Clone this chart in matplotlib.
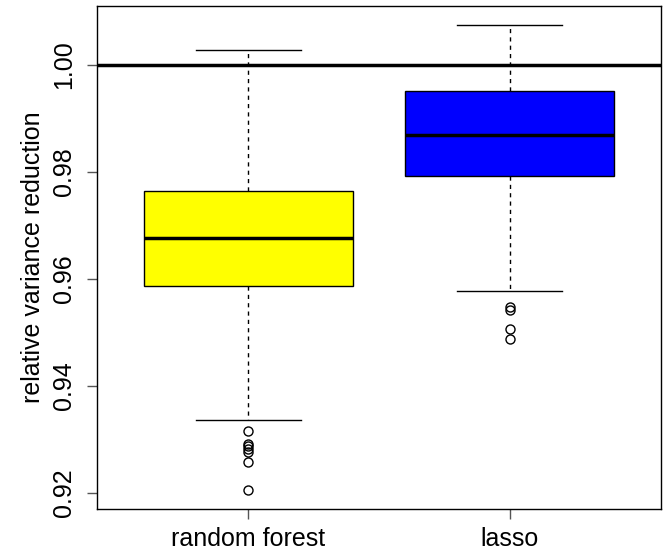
import matplotlib
matplotlib.use("Agg")
import matplotlib.pyplot as plt

plt.rcParams['font.family'] = ['Liberation Sans', 'DejaVu Sans']

methods = ['random forest', 'lasso']
box_colors = ['#FFFF00', '#0000FF']
whisker_low = [0.9336, 0.9578]
q1 = [0.9587, 0.9793]
medians = [0.9677, 0.9869]
q3 = [0.9764, 0.9951]
whisker_high = [1.0028, 1.0075]
outliers = [
    [0.9315, 0.9291, 0.9287, 0.9282, 0.9277, 0.9258, 0.9205],
    [0.9548, 0.9541, 0.9506, 0.9487],
]
y_ticks = [0.92, 0.94, 0.96, 0.98, 1.00]
reference_level = 1.0

stats = []
for i, name in enumerate(methods):
    stats.append({
        'label': name,
        'whislo': whisker_low[i],
        'q1': q1[i],
        'med': medians[i],
        'q3': q3[i],
        'whishi': whisker_high[i],
        'fliers': outliers[i],
    })

fig = plt.figure(figsize=(6.69, 5.52), dpi=100)
# R-like plot region
ax = fig.add_axes([0.145, 0.0779, 0.843, 0.9112])

bp = ax.bxp(stats, positions=[1, 2], widths=0.8, patch_artist=True,
            showfliers=True,
            boxprops=dict(edgecolor='black', linewidth=1.0),
            medianprops=dict(color='black', linewidth=2.5),
            whiskerprops=dict(color='black', linewidth=1.0, linestyle=(0, (3, 3))),
            capprops=dict(color='black', linewidth=1.0),
            capwidths=0.4,
            flierprops=dict(marker='o', markerfacecolor='none',
                            markeredgecolor='black', markersize=6.5,
                            markeredgewidth=1.0))
for patch, c in zip(bp['boxes'], box_colors):
    patch.set_facecolor(c)

ax.axhline(reference_level, color='black', linewidth=2.5, zorder=0.5)

ax.set_xlim(0.42, 2.58)
ax.set_ylim(0.9170, 1.0110)
ax.set_xticks([1, 2])
ax.set_xticklabels(methods, fontsize=18)
ax.set_yticks(y_ticks)
ax.set_yticklabels(['%.2f' % v for v in y_ticks], rotation=90, va='center',
                   fontsize=18)
ax.set_ylabel('relative variance reduction', fontsize=18, labelpad=5)
ax.tick_params(direction='out', length=7.2, width=1, color='#555555')
ax.tick_params(axis='y', pad=8)
ax.tick_params(axis='x', pad=6)
for s in ax.spines.values():
    s.set_linewidth(1.0)

fig.savefig('out.png', dpi=100)
